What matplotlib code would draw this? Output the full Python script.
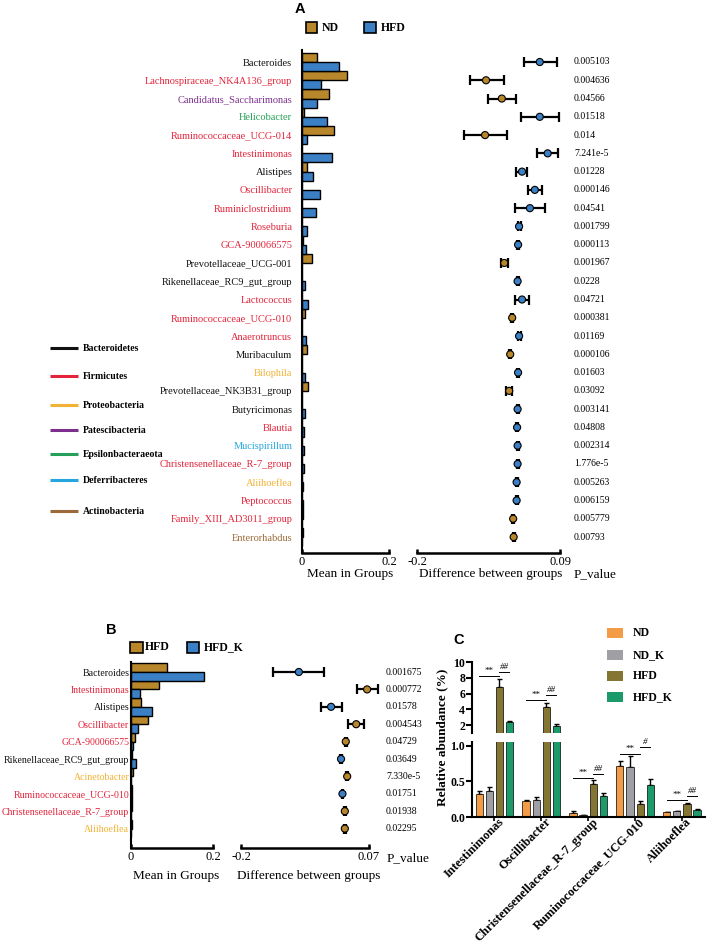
import matplotlib
matplotlib.use('Agg')
import matplotlib.pyplot as plt
from matplotlib.patches import Rectangle
from matplotlib.transforms import blended_transform_factory, ScaledTranslation
import numpy as np

plt.rcParams['font.family'] = ['Liberation Serif', 'DejaVu Serif']

# ---------------- data ----------------
genera_A = ["Bacteroides", "Lachnospiraceae_NK4A136_group", "Candidatus_Saccharimonas", "Helicobacter",
            "Ruminococcaceae_UCG-014", "Intestinimonas", "Alistipes", "Oscillibacter", "Ruminiclostridium",
            "Roseburia", "GCA-900066575", "Prevotellaceae_UCG-001", "Rikenellaceae_RC9_gut_group",
            "Lactococcus", "Ruminococcaceae_UCG-010", "Anaerotruncus", "Muribaculum", "Bilophila",
            "Prevotellaceae_NK3B31_group", "Butyricimonas", "Blautia", "Mucispirillum",
            "Christensenellaceae_R-7_group", "Aliihoeflea", "Peptococcus", "Family_XIII_AD3011_group",
            "Enterorhabdus"]
phylum_A = ["Bact", "Firm", "Pate", "Epsi", "Firm", "Firm", "Bact", "Firm", "Firm", "Firm", "Firm", "Bact",
            "Bact", "Firm", "Firm", "Firm", "Bact", "Prot", "Bact", "Bact", "Firm", "Defe", "Firm", "Prot",
            "Firm", "Firm", "Acti"]
nd_A = [0.034, 0.103, 0.062, 0.004, 0.073, 0.0005, 0.011, 0.0005, 0.0005, 0.001, 0.002, 0.023, 0.001,
        0.0005, 0.007, 0.001, 0.011, 0.0005, 0.014, 0.001, 0.0005, 0.0003, 0.0005, 0.0005, 0.0005, 0.002, 0.002]
hfd_A = [0.085, 0.044, 0.034, 0.057, 0.012, 0.069, 0.025, 0.041, 0.032, 0.011, 0.009, 0.001, 0.007,
         0.014, 0.001, 0.009, 0.001, 0.007, 0.001, 0.007, 0.004, 0.004, 0.004, 0.002, 0.002, 0.001, 0.001]
diff_A = [0.049, -0.060, -0.028, 0.049, -0.062, 0.065, 0.013, 0.039, 0.029, 0.007, 0.005, -0.023, 0.004,
          0.013, -0.007, 0.007, -0.011, 0.005, -0.013, 0.004, 0.003, 0.004, 0.004, 0.002, 0.002, -0.005, -0.004]
lo_A = [0.017, -0.092, -0.056, 0.011, -0.105, 0.044, 0.001, 0.025, -0.001, 0.004, 0.003, -0.030, 0.002,
        -0.001, -0.009, 0.004, -0.013, 0.003, -0.019, 0.002, 0.001, 0.002, 0.002, 0.000, 0.000, -0.007, -0.006]
hi_A = [0.084, -0.024, 0.000, 0.088, -0.018, 0.086, 0.023, 0.054, 0.060, 0.010, 0.007, -0.016, 0.006,
        0.027, -0.005, 0.010, -0.009, 0.007, -0.007, 0.006, 0.005, 0.006, 0.006, 0.004, 0.004, -0.003, -0.002]
pvals_A = ["0.005103", "0.004636", "0.04566", "0.01518", "0.014", "7.241e-5", "0.01228", "0.000146",
           "0.04541", "0.001799", "0.000113", "0.001967", "0.0228", "0.04721", "0.000381", "0.01169",
           "0.000106", "0.01603", "0.03092", "0.003141", "0.04808", "0.002314", "1.776e-5", "0.005263",
           "0.006159", "0.005779", "0.00793"]

genera_B = ["Bacteroides", "Intestinimonas", "Alistipes", "Oscillibacter", "GCA-900066575",
            "Rikenellaceae_RC9_gut_group", "Acinetobacter", "Ruminococcaceae_UCG-010",
            "Christensenellaceae_R-7_group", "Aliihoeflea"]
phylum_B = ["Bact", "Firm", "Bact", "Firm", "Firm", "Bact", "Prot", "Firm", "Firm", "Prot"]
hfd_B = [0.088, 0.069, 0.024, 0.042, 0.009, 0.003, 0.005, 0.002, 0.003, 0.002]
hfdk_B = [0.178, 0.022, 0.050, 0.018, 0.005, 0.011, 0.001, 0.003, 0.001, 0.001]
diff_B = [-0.078, 0.066, -0.010, 0.043, 0.021, 0.011, 0.024, 0.014, 0.019, 0.019]
lo_B = [-0.132, 0.044, -0.032, 0.026, 0.019, 0.009, 0.022, 0.012, 0.017, 0.017]
hi_B = [-0.025, 0.090, 0.013, 0.059, 0.023, 0.013, 0.026, 0.016, 0.021, 0.021]
pvals_B = ["0.001675", "0.000772", "0.01578", "0.004543", "0.04729", "0.03649", "7.330e-5",
           "0.01751", "0.01938", "0.02295"]

phylum_names = ["Bacteroidetes", "Firmicutes", "Proteobacteria", "Patescibacteria",
                "Epsilonbacteraeota", "Deferribacteres", "Actinobacteria"]
phylum_keys = ["Bact", "Firm", "Prot", "Pate", "Epsi", "Defe", "Acti"]
phylum_colors = ["#111111", "#e3243b", "#f2b233", "#7d2f8e", "#24a05a", "#27a6de", "#9c6a3a"]
pcol = dict(zip(phylum_keys, phylum_colors))

cats_C = ["Intestinimonas", "Oscillibacter", "Christensenellaceae_R-7_group",
          "Ruminococcaceae_UCG-010", "Aliihoeflea"]
groups_C = ["ND", "ND_K", "HFD", "HFD_K"]
nd_C = [0.33, 0.22, 0.06, 0.72, 0.065]
nd_err = [0.04, 0.02, 0.02, 0.07, 0.005]
ndk_C = [0.37, 0.24, 0.025, 0.70, 0.08]
ndk_err = [0.05, 0.04, 0.005, 0.16, 0.008]
hfd_C = [6.8, 4.25, 0.47, 0.19, 0.18]
hfd_err = [1.0, 0.5, 0.05, 0.04, 0.02]
hfdk_C = [2.35, 1.88, 0.30, 0.45, 0.10]
hfdk_err = [0.2, 0.25, 0.04, 0.08, 0.01]
# (category, from group, to group, height, label)
sig_C = [(0, 0, 2, 8.23, "**"), (0, 2, 3, 8.77, "##"),
         (1, 0, 2, 5.18, "**"), (1, 2, 3, 5.82, "##"),
         (2, 0, 2, 0.553, "**"), (2, 2, 3, 0.605, "##"),
         (3, 0, 2, 0.887, "**"), (3, 2, 3, 0.99, "#"),
         (4, 0, 2, 0.24, "**"), (4, 2, 3, 0.296, "##")]

# ---------------- style ----------------
GOLD = "#b8862b"
BLUE = "#3b7fc4"
colors_C = ["#f39c45", "#a0a0a4", "#857532", "#1b9a6a"]

W, H = 707, 947
fig = plt.figure(figsize=(W / 100, H / 100), dpi=100)


def px_axes(x0, y0, x1, y1):
    a = fig.add_axes([x0 / W, 1 - y1 / H, (x1 - x0) / W, (y1 - y0) / H])
    a.set_facecolor('none')
    return a


ov = fig.add_axes([0, 0, 1, 1])
ov.set_xlim(0, W)
ov.set_ylim(H, 0)
ov.axis('off')


def bar_panel(ax, names, phyla, a_vals, b_vals, ylim, pad, fs):
    n = len(names)
    y = np.arange(n)
    ax.barh(y - 0.25, a_vals, height=0.5, color=GOLD, edgecolor='black', linewidth=1.0)
    ax.barh(y + 0.25, b_vals, height=0.5, color=BLUE, edgecolor='black', linewidth=1.0)
    ax.set_xlim(0, 0.2)
    ax.set_ylim(*ylim)
    ax.set_yticks(y)
    ax.set_yticklabels(names, fontsize=fs)
    for lab, ph in zip(ax.get_yticklabels(), phyla):
        lab.set_color(pcol[ph])
    ax.tick_params(axis='y', length=0, pad=pad)
    for s in ['top', 'right']:
        ax.spines[s].set_visible(False)
    ax.spines['left'].set_linewidth(1.5)
    ax.spines['bottom'].set_linewidth(1.8)
    ax.spines['bottom'].set_bounds(0, 0.2)
    ax.set_xticks([0, 0.2])
    ax.set_xticklabels(["0", "0.2"], fontsize=9)
    ax.tick_params(axis='x', direction='in', length=3, width=1.8, pad=2)


def diff_panel(ax, diffs, lo, hi, a_vals, b_vals, ylim, xlim, xlabels, pvals, px):
    n = len(diffs)
    y = np.arange(n)
    d = np.array(diffs)
    err = np.vstack([d - np.array(lo), np.array(hi) - d])
    ax.errorbar(d, y, xerr=err, fmt='none', ecolor='black', elinewidth=1.6, capsize=3.5, capthick=1.6,
                clip_on=False, zorder=2)
    cols = [BLUE if b > a else GOLD for a, b in zip(a_vals, b_vals)]
    ax.scatter(d, y, s=26, c=cols, edgecolors='black', linewidths=0.8, zorder=3, clip_on=False)
    ax.set_xlim(*xlim)
    ax.set_ylim(*ylim)
    ax.set_yticks([])
    for s in ['top', 'right', 'left']:
        ax.spines[s].set_visible(False)
    ax.spines['bottom'].set_linewidth(1.8)
    ax.spines['bottom'].set_bounds(*xlim)
    ax.set_xticks(list(xlim))
    ax.set_xticklabels(xlabels, fontsize=9)
    ax.tick_params(axis='x', direction='in', length=3, width=1.8, pad=2)
    tr = blended_transform_factory(ax.transAxes, ax.transData)
    for yi, p in zip(y, pvals):
        ax.text(px, yi, p, transform=tr, fontsize=7, va='center', ha='left')


# ---------------- Panel A ----------------
rowA = 18.27
ylimA = ((553 - 62) / rowA, (50 - 62) / rowA)
axA1 = px_axes(302, 50, 389, 553)
bar_panel(axA1, genera_A, phylum_A, nd_A, hfd_A, ylimA, pad=7, fs=7.5)
axA2 = px_axes(417, 50, 560, 553)
diff_panel(axA2, diff_A, lo_A, hi_A, nd_A, hfd_A, ylimA, (-0.2, 0.09), ["-0.2", "0.09"], pvals_A,
           (574 - 417) / 143)

ov.text(300, 9, "A", fontsize=10.5, fontweight='bold', family='Liberation Sans', ha='center', va='center')
ov.add_patch(Rectangle((306, 22), 11, 11, facecolor=GOLD, edgecolor='black', lw=1.2))
ov.text(322, 28, "ND", fontsize=8.5, fontweight='bold', va='center')
ov.add_patch(Rectangle((364, 22), 12, 11, facecolor=BLUE, edgecolor='black', lw=1.2))
ov.text(381, 28, "HFD", fontsize=8.5, fontweight='bold', va='center')
ov.text(350, 574, "Mean in Groups", fontsize=9.5, ha='center', va='center')
ov.text(491, 574, "Difference between groups", fontsize=9.5, ha='center', va='center')
ov.text(574, 574, "P_value", fontsize=9.5, ha='left', va='center')

leg_y = [348, 376, 405, 430, 454, 480, 511]
for yy, name, c in zip(leg_y, phylum_names, phylum_colors):
    ov.plot([50, 78], [yy, yy], color=c, lw=2.2, solid_capstyle='butt')
    ov.text(83, yy, name, fontsize=7, fontweight='bold', va='center', ha='left')

# ---------------- Panel B ----------------
rowB = 17.4
ylimB = ((848 - 672) / rowB, (662 - 672) / rowB)
axB1 = px_axes(131, 662, 213, 848)
bar_panel(axB1, genera_B, phylum_B, hfd_B, hfdk_B, ylimB, pad=1.2, fs=7.1)
axB2 = px_axes(241, 662, 369, 848)
diff_panel(axB2, diff_B, lo_B, hi_B, hfd_B, hfdk_B, ylimB, (-0.2, 0.07), ["-0.2", "0.07"], pvals_B,
           (386 - 241) / 128)

ov.text(111, 630, "B", fontsize=10.5, fontweight='bold', family='Liberation Sans', ha='center', va='center')
ov.add_patch(Rectangle((130, 642), 13, 11, facecolor=GOLD, edgecolor='black', lw=1.2))
ov.text(145, 647, "HFD", fontsize=8.5, fontweight='bold', va='center')
ov.add_patch(Rectangle((187, 642), 12, 11, facecolor=BLUE, edgecolor='black', lw=1.2))
ov.text(204, 647, "HFD_K", fontsize=8.5, fontweight='bold', va='center')
ov.text(176, 876, "Mean in Groups", fontsize=9.5, ha='center', va='center')
ov.text(309, 876, "Difference between groups", fontsize=9.5, ha='center', va='center')
ov.text(387, 858, "P_value", fontsize=9.5, ha='left', va='center')

# ---------------- Panel C ----------------
axCu = px_axes(472, 662, 705, 733)
axCl = px_axes(472, 742, 705, 817)
offsets = [-0.32, -0.107, 0.107, 0.32]
vals = [nd_C, ndk_C, hfd_C, hfdk_C]
errs = [nd_err, ndk_err, hfd_err, hfdk_err]
xc = np.arange(len(cats_C))
for ax, lowcut in ((axCu, 1.0), (axCl, -1.0)):
    for g in range(4):
        v = np.array(vals[g])
        e = np.array(errs[g])
        m = v > lowcut
        ax.bar(xc[m] + offsets[g], v[m], width=0.15, color=colors_C[g], edgecolor='black', linewidth=0.5,
               zorder=2)
        ax.errorbar(xc[m] + offsets[g], v[m], yerr=[np.zeros(m.sum()), e[m]], fmt='none', ecolor='black',
                    elinewidth=1.0, capsize=1.8, capthick=1.0, zorder=1)
    ax.set_xlim(-0.47, 4.49)
    for s in ['top', 'right']:
        ax.spines[s].set_visible(False)
    ax.spines['left'].set_linewidth(1.5)
    ax.tick_params(axis='y', direction='out', length=4, width=1.5, pad=1, labelsize=8.5)

axCu.set_ylim(1.0, 10.0)
axCu.set_yticks([2, 4, 6, 8, 10])
axCu.set_yticklabels(["2", "4", "6", "8", "10"], fontweight='bold')
axCu.spines['bottom'].set_visible(False)
axCu.set_xticks([])

axCl.set_ylim(0, 1.056)
axCl.set_yticks([0, 0.5, 1.0])
axCl.set_yticklabels(["0.0", "0.5", "1.0"], fontweight='bold')
axCl.spines['bottom'].set_linewidth(1.5)
axCl.set_xticks(xc)
axCl.set_xticklabels(cats_C, rotation=45, ha='right', va='center', rotation_mode='anchor',
                     fontweight='bold', fontsize=9)
axCl.tick_params(axis='x', direction='out', length=3, width=1.2, pad=0)
for lab in axCl.get_xticklabels():
    lab.set_transform(lab.get_transform() + ScaledTranslation(0.08, 0.01, fig.dpi_scale_trans))

for ci, g0, g1, yv, lab in sig_C:
    ax = axCu if yv > 1.0 else axCl
    x0 = ci + offsets[g0]
    x1 = ci + offsets[g1]
    ax.plot([x0, x1], [yv, yv], color='black', lw=0.7, clip_on=False)
    style = 'italic' if lab.startswith('#') else 'normal'
    ax.annotate(lab, xy=((x0 + x1) / 2, yv), xytext=(0, 0.5), textcoords='offset points',
                ha='center', va='bottom', fontsize=6.5, fontstyle=style, annotation_clip=False)

ov.text(442, 737, "Relative abundance (%)", fontsize=9.5, fontweight='bold', rotation=90,
        ha='center', va='center')
ov.text(459, 640, "C", fontsize=10.5, fontweight='bold', family='Liberation Sans', ha='center', va='center')
leg_c_y = [633, 655, 676, 697]
for yy, g, c in zip(leg_c_y, groups_C, colors_C):
    ov.add_patch(Rectangle((607, yy - 5), 16, 10, facecolor=c, edgecolor='none'))
    ov.text(633, yy, g, fontsize=8.5, fontweight='bold', va='center', ha='left')

fig.savefig("out.png", dpi=100)
